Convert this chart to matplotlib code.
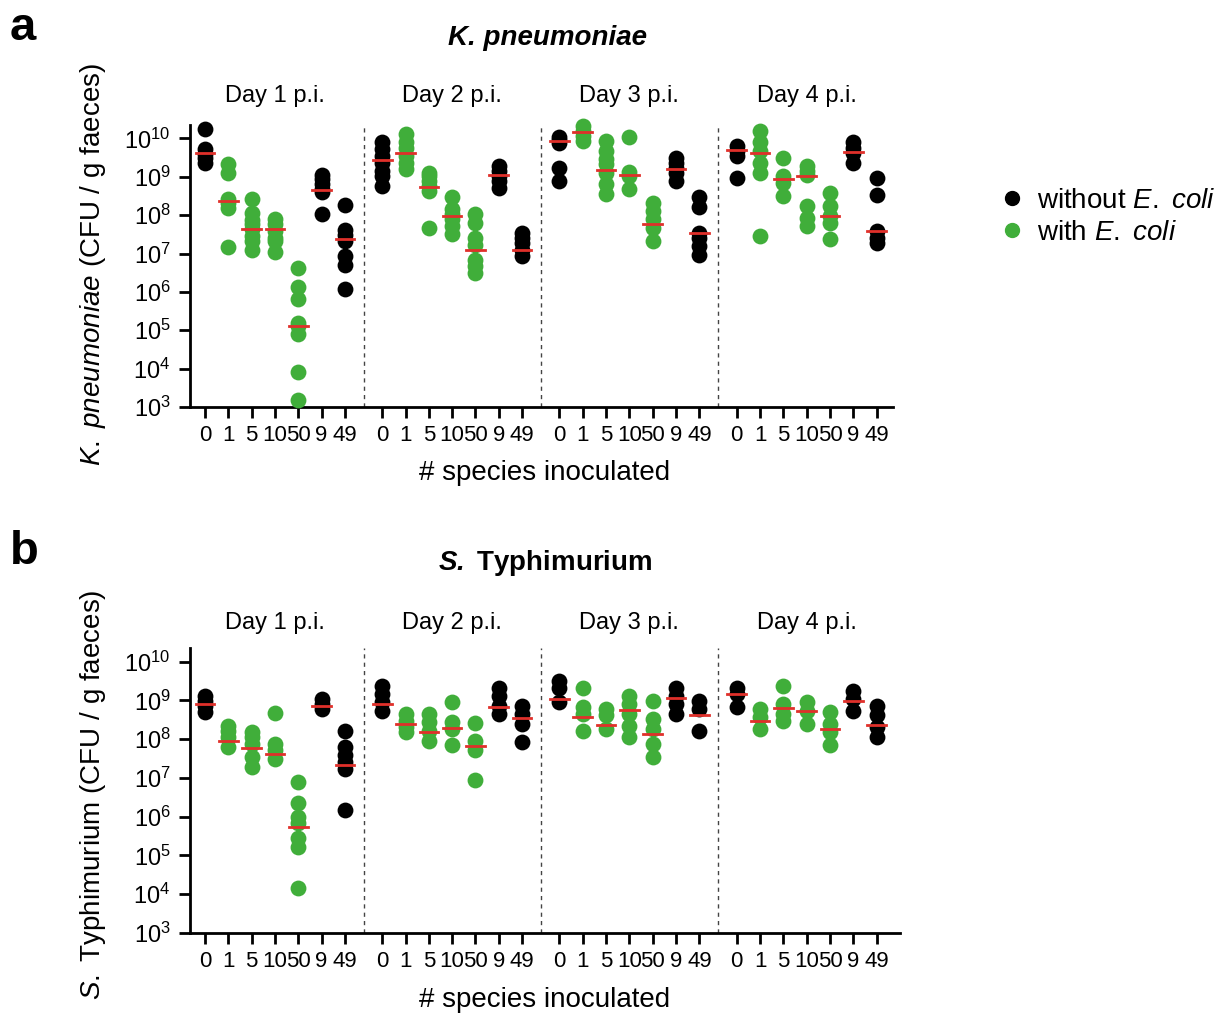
import matplotlib
matplotlib.use('Agg')
import matplotlib.pyplot as plt
from matplotlib.lines import Line2D
from matplotlib.ticker import FixedLocator, FuncFormatter
import numpy as np

plt.rcParams['font.family'] = ['Liberation Sans', 'DejaVu Sans']
plt.rcParams['mathtext.fontset'] = 'custom'
plt.rcParams['mathtext.rm'] = 'Liberation Sans'
plt.rcParams['mathtext.it'] = 'Liberation Sans:italic'
plt.rcParams['mathtext.bf'] = 'Liberation Sans:bold'
plt.rcParams['mathtext.bfit'] = 'Liberation Sans:italic:bold'

groups = ['0', '1', '5', '10', '50', '9', '49']
with_ecoli = [False, True, True, True, True, False, False]
days = ['Day 1 p.i.', 'Day 2 p.i.', 'Day 3 p.i.', 'Day 4 p.i.']

# values are log10(CFU / g faeces), one list per inoculum group
kp_d1 = [[10.24, 9.72, 9.59, 9.48, 9.37],
         [9.33, 9.09, 8.43, 8.32, 8.18, 7.17],
         [8.43, 8.05, 7.88, 7.76, 7.63, 7.45, 7.32, 7.10],
         [7.89, 7.76, 7.58, 7.41, 7.32, 7.03],
         [6.62, 6.14, 5.81, 5.18, 5.10, 4.90, 3.90, 3.19],
         [9.04, 8.94, 8.80, 8.67, 8.60, 8.02],
         [8.26, 7.61, 7.47, 7.32, 6.93, 6.71, 6.07]]
kp_d2 = [[9.90, 9.72, 9.55, 9.37, 9.15, 9.02, 8.76],
         [10.11, 9.90, 9.76, 9.55, 9.37, 9.20],
         [9.11, 9.02, 8.89, 8.76, 8.63, 7.67],
         [8.48, 8.15, 8.02, 7.89, 7.71, 7.50],
         [8.02, 7.80, 7.41, 7.23, 6.84, 6.67, 6.49],
         [9.28, 9.15, 9.02, 8.89, 8.72],
         [7.54, 7.41, 7.28, 7.10, 6.93]]
kp_d3 = [[10.03, 9.95, 9.88, 9.24, 8.89],
         [10.33, 10.20, 10.07, 9.93],
         [9.94, 9.68, 9.46, 9.33, 9.11, 8.80, 8.54],
         [10.03, 9.13, 9.02, 8.67],
         [8.32, 8.11, 7.89, 7.67, 7.32],
         [9.50, 9.37, 9.24, 9.11, 8.89],
         [8.48, 8.22, 7.54, 7.41, 7.19, 6.97]]
kp_d4 = [[9.81, 9.68, 9.55, 8.98],
         [10.20, 9.90, 9.68, 9.37, 9.11, 7.45],
         [9.50, 9.02, 8.85, 8.50],
         [9.28, 9.15, 9.05, 8.24, 7.93, 7.71],
         [8.59, 8.24, 7.98, 7.80, 7.37],
         [9.90, 9.76, 9.63, 9.37],
         [8.98, 8.52, 7.58, 7.41, 7.28]]
kp_median = [[9.63, 8.38, 7.65, 7.63, 5.12, 8.66, 7.38],
             [9.44, 9.61, 8.74, 7.98, 7.10, 9.05, 7.10],
             [9.92, 10.16, 9.17, 9.05, 7.78, 9.21, 7.54],
             [9.70, 9.63, 8.94, 9.02, 7.98, 9.65, 7.58]]

st_d1 = [[9.12, 8.99, 8.86, 8.69],
         [8.35, 8.22, 8.05, 7.79],
         [8.18, 8.05, 7.88, 7.54, 7.28],
         [8.67, 7.88, 7.71, 7.49],
         [6.89, 6.34, 6.00, 5.83, 5.44, 5.23, 4.16],
         [9.03, 8.91, 8.78],
         [8.22, 7.79, 7.58, 7.41, 7.24, 6.17]]
st_d2 = [[9.38, 9.16, 8.95, 8.73],
         [8.65, 8.48, 8.31, 8.18],
         [8.65, 8.43, 8.22, 7.96],
         [8.97, 8.43, 8.26, 7.84],
         [8.42, 7.96, 7.71, 6.95],
         [9.33, 9.12, 8.86, 8.65],
         [8.86, 8.65, 8.39, 7.92]]
st_d3 = [[9.50, 9.33, 8.95],
         [9.33, 8.82, 8.65, 8.22],
         [8.78, 8.61, 8.26],
         [9.12, 8.91, 8.65, 8.35, 8.05],
         [8.99, 8.52, 8.26, 7.88, 7.54],
         [9.33, 9.12, 8.91, 8.65],
         [8.99, 8.78, 8.22]]
st_d4 = [[9.33, 9.16, 8.82],
         [8.78, 8.57, 8.26],
         [9.38, 8.91, 8.65, 8.48],
         [8.95, 8.73, 8.39],
         [8.69, 8.39, 8.18, 7.84],
         [9.25, 9.03, 8.73],
         [8.86, 8.61, 8.31, 8.05]]
st_median = [[8.91, 7.96, 7.77, 7.62, 5.74, 8.85, 7.34],
             [8.91, 8.39, 8.18, 8.28, 7.81, 8.82, 8.55],
             [9.03, 8.56, 8.37, 8.76, 8.14, 9.05, 8.62],
             [9.16, 8.48, 8.79, 8.73, 8.26, 8.99, 8.37]]

GREEN = '#40ae3a'
RED = '#e0302a'
GAP = 7.6
W, H = 1224, 1017

fig = plt.figure(figsize=(W / 100, H / 100), dpi=100)


def draw_panel(rect, day_data, medians, xmax, day_off):
    ax = fig.add_axes(rect)
    ax.set_yscale('log')
    for d, day in enumerate(day_data):
        for i, vals in enumerate(day):
            x = d * GAP + i
            col = GREEN if with_ecoli[i] else 'black'
            ax.scatter(np.full(len(vals), x), 10 ** np.array(vals), s=130,
                       color=col, linewidths=0, zorder=3, clip_on=False)
            m = 10 ** medians[d][i]
            ax.plot([x - 0.4, x + 0.4], [m, m], color=RED, lw=2, zorder=4)
        ax.annotate(days[d], xy=(d * GAP + 3, 1), xycoords=('data', 'axes fraction'),
                    xytext=(0, day_off), textcoords='offset points', ha='center',
                    va='center', fontsize=17)
        if d > 0:
            ax.axvline(d * GAP - 0.8, color='#444444', lw=1, ls=(0, (3, 3)), zorder=1)
    ax.set_xlim(-0.64, xmax)
    ax.set_ylim(1e3, 10 ** 10.35)
    xt = [d * GAP + i for d in range(4) for i in range(7)]
    ax.set_xticks(xt)
    ax.set_xticklabels(groups * 4)
    ax.yaxis.set_major_locator(FixedLocator([10.0 ** k for k in range(3, 11)]))
    ax.yaxis.set_minor_locator(FixedLocator([]))
    ax.yaxis.set_major_formatter(FuncFormatter(lambda v, p: r'$10^{%d}$' % round(np.log10(v))))
    for s in ['top', 'right']:
        ax.spines[s].set_visible(False)
    for s in ['left', 'bottom']:
        ax.spines[s].set_linewidth(2)
    ax.tick_params(axis='x', width=2, length=8, labelsize=16, pad=5)
    ax.tick_params(axis='y', width=2, length=8, labelsize=17, pad=6)
    return ax


ax_a = draw_panel([190 / W, 1 - 407 / H, 703 / W, 282 / H],
                  [kp_d1, kp_d2, kp_d3, kp_d4], kp_median, 29.5, 21)
ax_b = draw_panel([190 / W, 1 - 933 / H, 710 / W, 285 / H],
                  [st_d1, st_d2, st_d3, st_d4], st_median, 29.8, 18)

fig.text(10 / W, 1 - 6 / H, 'a', fontsize=34, fontweight='bold', va='top')
fig.text(10 / W, 1 - 530 / H, 'b', fontsize=34, fontweight='bold', va='top')

fig.text(548 / W, 1 - 38 / H, 'K. pneumoniae', fontsize=20, fontweight='bold',
         style='italic', ha='center', va='center')
fig.text(545 / W, 1 - 563 / H, r'$\mathbfit{S.}$ Typhimurium', fontsize=20,
         fontweight='bold', ha='center', va='center')

fig.text(93 / W, 1 - 265 / H, r'$\it{K.}$ $\it{pneumoniae}$ (CFU / g faeces)', fontsize=20,
         rotation=90, ha='center', va='center')
fig.text(93 / W, 1 - 795 / H, r'$\it{S.}$ Typhimurium (CFU / g faeces)', fontsize=20,
         rotation=90, ha='center', va='center')

fig.text(545 / W, 1 - 473 / H, '# species inoculated', fontsize=20, ha='center',
         va='center')
fig.text(545 / W, 1 - 1000 / H, '# species inoculated', fontsize=20, ha='center',
         va='center')

handles = [Line2D([], [], marker='o', ls='', color='black', markersize=10,
                  label=r'without $\it{E.}$ $\it{coli}$'),
           Line2D([], [], marker='o', ls='', color=GREEN, markersize=10,
                  label=r'with $\it{E.}$ $\it{coli}$')]
fig.legend(handles=handles, loc='upper left', bbox_to_anchor=(995 / W, 1 - 188 / H),
           frameon=False, fontsize=20, handletextpad=0.3, labelspacing=0.2,
           handlelength=1.2, borderaxespad=0, borderpad=0)

fig.savefig('out.png', dpi=100)
